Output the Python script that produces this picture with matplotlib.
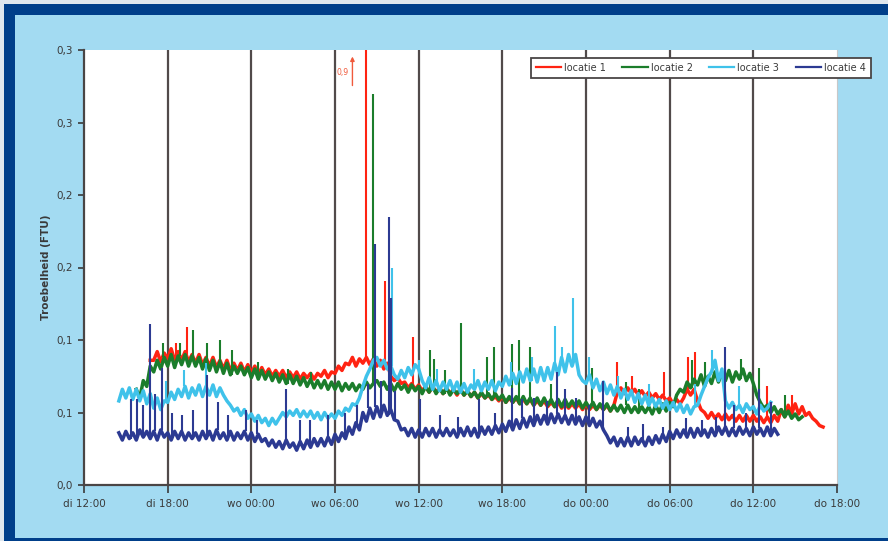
import numpy as np
import matplotlib
matplotlib.use("Agg")
from matplotlib import pyplot as plt
from matplotlib.patches import Rectangle

# hours since "di 12:00"; base readings every 15 minutes, short peaks listed apart
STEP_H = 0.25

x_tick_hours = [0, 6, 12, 18, 24, 30, 36, 42, 48, 54]
x_tick_labels = ["di 12:00", "di 18:00", "wo 00:00", "wo 06:00", "wo 12:00",
                 "wo 18:00", "do 00:00", "do 06:00", "do 12:00", "do 18:00"]
y_tick_values = [0.0, 0.05, 0.10, 0.15, 0.20, 0.25, 0.30]
y_tick_labels = ["0,0", "0,1", "0,1", "0,2", "0,2", "0,3", "0,3"]

series_names = ["locatie 1", "locatie 2", "locatie 3", "locatie 4"]
series_colors = ["#ff2312", "#1b7d2b", "#3fc2ea", "#2c3a92"]
series_start_h = [4.75, 3.75, 2.5, 2.5]

# turbidity in milli-FTU
loc1_mftu = [
    86,
    86, 92, 85, 91, 87, 94, 86, 92, 86, 92, 85, 90, 84, 90, 83, 88,
    82, 88, 81, 86, 80, 86, 79, 84, 79, 84, 78, 83, 77, 82, 76, 81,
    76, 80, 75, 79, 75, 79, 74, 78, 74, 78, 73, 77, 74, 77, 73, 77,
    75, 79, 74, 78, 77, 82, 79, 84, 83, 88, 82, 87, 84, 88, 83, 87,
    82, 86, 80, 84, 75, 72, 74, 70, 71, 67, 70, 66, 69, 65, 68, 64,
    68, 64, 67, 63, 67, 63, 66, 62, 66, 62, 65, 61, 64, 60, 63, 60,
    62, 59, 61, 58, 61, 57, 60, 57, 60, 56, 59, 56, 59, 55, 58, 55,
    58, 54, 57, 54, 57, 53, 56, 53, 56, 53, 56, 52, 56, 52, 55, 52,
    55, 52, 55, 51, 55, 64, 67, 63, 67, 63, 66, 62, 65, 61, 64, 60,
    63, 59, 62, 58, 60, 56, 59, 56, 60, 66, 62, 66, 58, 52, 50, 46,
    50, 46, 49, 45, 49, 45, 48, 44, 48, 44, 48, 44, 48, 44, 47, 43,
    47, 43, 48, 44, 52, 47, 55, 49, 56, 49, 54, 48, 50, 46, 44, 41,
    40,
]
loc2_mftu = [
    66,
    60, 72, 68, 82, 78, 86, 80, 88, 82, 90, 81, 89, 83, 90, 82, 89,
    82, 88, 80, 87, 79, 86, 78, 85, 77, 84, 76, 82, 77, 82, 76, 81,
    74, 80, 73, 79, 73, 78, 72, 77, 71, 76, 70, 76, 70, 75, 69, 74,
    68, 73, 67, 72, 67, 72, 66, 71, 66, 71, 65, 70, 66, 70, 65, 69,
    66, 71, 67, 70, 72, 68, 71, 66, 70, 65, 70, 66, 69, 64, 69, 65,
    68, 63, 68, 64, 68, 63, 67, 63, 67, 62, 66, 63, 66, 62, 65, 61,
    64, 60, 64, 60, 63, 59, 63, 59, 62, 57, 61, 57, 61, 56, 61, 56,
    60, 55, 60, 55, 60, 55, 59, 54, 59, 54, 59, 54, 58, 54, 58, 53,
    57, 53, 57, 52, 56, 52, 56, 51, 55, 51, 55, 50, 55, 50, 54, 50,
    54, 50, 54, 49, 55, 50, 56, 51, 57, 54, 62, 66, 64, 71, 67, 73,
    69, 76, 68, 75, 70, 78, 71, 77, 72, 79, 71, 78, 73, 80, 72, 77,
    70, 62, 57, 53, 55, 50, 54, 49, 52, 47, 51, 46,
    49, 45, 47,
]
loc3_mftu = [
    58, 66,
    60, 67, 59, 66, 58, 65, 56, 63, 53, 60, 52, 58, 57, 64, 59, 66,
    61, 68, 60, 67, 62, 69, 61, 68, 62, 69, 61, 67, 62, 58, 55, 51,
    53, 48, 52, 46, 49, 44, 48, 43, 46, 41, 46, 42, 46, 50, 47, 51,
    48, 52, 47, 51, 47, 51, 46, 50, 45, 50, 46, 49, 46, 51, 48, 53,
    51, 56, 55, 60, 68, 75, 80, 86, 88, 82, 86, 80, 82, 76, 73, 79,
    74, 81, 76, 83, 80, 72, 67, 74, 66, 72, 65, 71, 66, 72, 65, 71,
    64, 70, 64, 69, 66, 72, 65, 71, 66, 72, 65, 71, 68, 75, 69, 77,
    70, 78, 71, 80, 72, 80, 71, 81, 72, 81, 73, 84, 76, 88, 78, 90,
    82, 90, 76, 72, 70, 76, 67, 73, 65, 71, 63, 69, 62, 68, 60, 66,
    59, 65, 57, 63, 56, 62, 55, 60, 54, 59, 53, 58, 52, 57, 51, 56,
    50, 55, 49, 54, 55, 62, 68, 74, 78, 86, 72, 80, 58, 53, 57, 52,
    55, 50, 56, 52, 54, 49, 55, 51,
    53, 57,
]
loc4_mftu = [
    36, 31,
    37, 32, 36, 31, 38, 33, 37, 32, 37, 31, 38, 33, 36, 31, 37, 32,
    37, 31, 36, 32, 36, 31, 37, 32, 37, 31, 38, 32, 36, 31, 37, 31,
    36, 32, 37, 31, 36, 30, 35, 30, 32, 27, 31, 26, 30, 25, 31, 26,
    29, 24, 30, 25, 31, 26, 32, 27, 32, 27, 33, 28, 35, 30, 36, 32,
    40, 35, 43, 38, 50, 44, 53, 46, 54, 47, 55, 48, 52, 45, 44, 38,
    39, 34, 39, 33, 38, 33, 39, 34, 39, 33, 38, 34, 39, 34, 38, 33,
    39, 34, 40, 34, 39, 33, 40, 35, 40, 35, 41, 36, 42, 37, 44, 38,
    45, 39, 46, 40, 47, 41, 48, 42, 48, 42, 49, 43, 49, 43, 48, 42,
    48, 42, 47, 41, 47, 41, 46, 40, 44, 38, 34, 29, 33, 27, 32, 27,
    33, 27, 33, 28, 32, 27, 33, 28, 34, 29, 35, 30, 37, 32, 38, 33,
    38, 33, 39, 33, 39, 34, 38, 33, 39, 34, 40, 35, 40, 34, 39, 34,
    40, 35, 39, 34, 40, 35, 39, 34, 40, 34, 39, 35,
]

# short peaks: time (h) and top value (milli-FTU)
loc1_peak_h = [6.6, 7.4, 20.2, 21.6, 23.6, 38.25, 39.3, 41.6, 43.3, 43.8, 49.0, 50.8]
loc1_peak_mftu = [98, 109, 900, 141, 102, 85, 75, 78, 88, 92, 68, 62]
loc2_peak_h = [5.7, 6.85, 7.8, 8.8, 9.75, 10.6, 12.5, 14.6, 16.3, 20.7, 24.8, 25.1,
               25.86, 27.0, 28.9, 29.4, 30.66, 31.2, 31.95, 33.5, 36.4, 38.9, 39.8,
               43.6, 44.5, 47.1, 48.4, 50.3]
loc2_peak_mftu = [98, 98, 107, 98, 100, 93, 85, 80, 78, 270, 93, 87,
                  79, 112, 88, 95, 97, 100, 95, 70, 81, 71, 66,
                  86, 85, 87, 81, 62]
loc3_peak_h = [5.9, 7.2, 8.75, 22.06, 24.0, 25.3, 28.0, 30.6, 32.1, 33.75, 34.3,
               35.1, 36.2, 38.3, 40.5, 43.8, 45.0, 47.0]
loc3_peak_mftu = [72, 79, 84, 150, 86, 80, 80, 85, 88, 110, 95,
                  129, 88, 75, 70, 70, 93, 68]
loc4_peak_h = [3.37, 3.8, 4.2, 4.73, 5.1, 5.6, 6.3, 7.0, 7.8, 8.8, 9.6, 10.3, 11.6,
               12.4, 14.5, 15.5, 16.2, 17.5, 18.7, 19.6, 20.4, 20.9, 21.3, 21.85,
               22.0, 22.3, 24.1, 25.5, 26.8, 28.3, 29.5, 30.7, 31.4, 32.3, 33.2,
               33.9, 34.5, 35.3, 36.2, 37.2, 39.0, 40.1, 41.5, 43.2, 44.3, 45.3,
               46.0, 46.6, 47.5, 48.4, 49.3]
loc4_peak_mftu = [59, 59, 55, 111, 63, 81, 50, 48, 52, 76, 57, 48, 52,
                  45, 66, 45, 45, 48, 50, 55, 70, 166, 72, 185,
                  129, 65, 59, 48, 47, 59, 50, 67, 59, 60, 58,
                  78, 66, 60, 55, 72, 40, 42, 40, 46, 45, 47,
                  95, 55, 50, 66, 57]

all_series = [loc1_mftu, loc2_mftu, loc3_mftu, loc4_mftu]
all_peak_h = [loc1_peak_h, loc2_peak_h, loc3_peak_h, loc4_peak_h]
all_peak_mftu = [loc1_peak_mftu, loc2_peak_mftu, loc3_peak_mftu, loc4_peak_mftu]

W, H = 888, 541
fig = plt.figure(figsize=(W / 100, H / 100), dpi=100, facecolor="#a3dbf2")

# frame of the picture: thin pale edge, then dark blue band
fig.add_artist(Rectangle((0, 0), 4 / W, 1, transform=fig.transFigure,
                         color="#dfe7ee", lw=0))
fig.add_artist(Rectangle((0, 1 - 4 / H), 1, 4 / H, transform=fig.transFigure,
                         color="#dfe7ee", lw=0))
fig.add_artist(Rectangle((4 / W, 0), 11 / W, 1 - 4 / H, transform=fig.transFigure,
                         color="#003f8a", lw=0))
fig.add_artist(Rectangle((4 / W, 1 - 15 / H), 1, 11 / H, transform=fig.transFigure,
                         color="#003f8a", lw=0))
fig.add_artist(Rectangle((4 / W, 0), 1, 3 / H, transform=fig.transFigure,
                         color="#003f8a", lw=0))

ax = fig.add_axes([84 / W, 56 / H, 753 / W, 435 / H])
ax.set_facecolor("white")

for t in x_tick_hours[1:-1]:
    ax.axvline(t, color="#514a4a", lw=1.6, zorder=1)

lines = []
for k in range(4):
    vals = np.array(all_series[k]) / 1000.0
    t = series_start_h[k] + STEP_H * np.arange(len(vals))
    ln, = ax.plot(t, vals, color=series_colors[k], lw=2.5, label=series_names[k],
                  solid_joinstyle="round", zorder=2 + k)
    lines.append(ln)
    # peaks rise from the nearest base reading
    ph = np.array(all_peak_h[k])
    idx = np.clip(np.rint((ph - series_start_h[k]) / STEP_H).astype(int), 0, len(vals) - 1)
    ax.vlines(ph, vals[idx], np.array(all_peak_mftu[k]) / 1000.0,
              color=series_colors[k], lw=1.5, zorder=2 + k)

ax.set_xlim(x_tick_hours[0], x_tick_hours[-1])
ax.set_ylim(y_tick_values[0], y_tick_values[-1])
ax.set_xticks(x_tick_hours)
ax.set_xticklabels(x_tick_labels)
ax.set_yticks(y_tick_values)
ax.set_yticklabels(y_tick_labels)
ax.tick_params(axis="both", colors="#3a3a3a", labelsize=7.5, direction="out",
               length=4, width=1.2)
ax.tick_params(axis="x", pad=4, length=6)
ax.tick_params(axis="y", pad=4)
for lbl in ax.get_xticklabels() + ax.get_yticklabels():
    lbl.set_color("#3a3a3a")

ax.spines["top"].set_visible(False)
ax.spines["right"].set_color("#c8c8c8")
ax.spines["right"].set_linewidth(0.8)
for side in ("left", "bottom"):
    ax.spines[side].set_color("#4a4545")
    ax.spines[side].set_linewidth(1.6)

ax.set_ylabel("Troebelheid (FTU)", fontsize=7.5, fontweight="bold",
              color="#3a3a3a", labelpad=4)

# off-scale peak of locatie 1
top_i = int(np.argmax(loc1_peak_mftu))
top_t = loc1_peak_h[top_i]
ax.annotate("", xy=(top_t - 0.95, 0.2955), xytext=(top_t - 0.95, 0.2755),
            arrowprops=dict(arrowstyle="-|>", color="#f05a3c", lw=1.0,
                            mutation_scale=6, shrinkA=0, shrinkB=0))
ax.text(top_t - 1.25, 0.2845, f"{loc1_peak_mftu[top_i] / 1000:.1f}".replace(".", ","),
        color="#f05a3c", fontsize=5.5, ha="right", va="center")

leg = ax.legend(handles=lines, loc="upper left", ncol=4,
                bbox_to_anchor=(531 / W, 1 - 58 / H), bbox_transform=fig.transFigure,
                fontsize=7, frameon=True, fancybox=False, framealpha=1,
                edgecolor="#4a4545", handlelength=2.6, handletextpad=0.3,
                columnspacing=1.7, borderpad=0.5, borderaxespad=0)
leg.get_frame().set_linewidth(1.3)
leg.set_zorder(10)
for legline in leg.get_lines():
    legline.set_linewidth(1.6)
for txt in leg.get_texts():
    txt.set_color("#3a3a3a")

fig.savefig("out.png", dpi=100, facecolor=fig.get_facecolor())
